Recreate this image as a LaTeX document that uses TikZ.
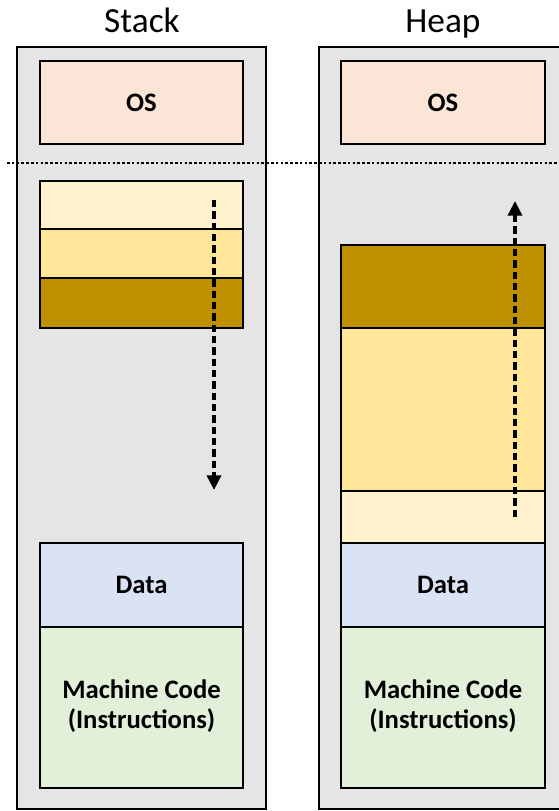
\documentclass[tikz,border=0pt]{standalone}
\usepackage{fontspec}
\setmainfont{Carlito}
\usetikzlibrary{arrows.meta}

\definecolor{memgray}{RGB}{229,229,229}
\definecolor{osfill}{RGB}{251,229,214}
\definecolor{datafill}{RGB}{218,227,243}
\definecolor{codefill}{RGB}{226,240,217}
\definecolor{lightgold}{RGB}{255,242,204}
\definecolor{midgold}{RGB}{255,230,153}
\definecolor{darkgold}{RGB}{191,144,0}

\tikzset{every picture/.style={line width=0.75pt}}
\tikzset{
memframe/.style={draw=black, fill=memgray, line width=1.6pt},
segbox/.style={draw=black, line width=2pt},
seglabel/.style={font=\fontsize{20}{23}\selectfont\bfseries, align=center, inner sep=0.75pt},
memtitle/.style={font=\fontsize{26.5}{30}\selectfont, inner sep=0.75pt},
growth/.style={line width=2.6pt, dash pattern={on 5.5pt off 3pt}, -{Triangle[width=10.5pt,length=11pt]}}
}

\begin{document}
\begin{tikzpicture}[x=0.75pt,y=0.75pt,yscale=-1,xscale=1]
\useasboundingbox (0,0) rectangle (559,811);

%Shape: Rectangle [stack frame]
\draw [memframe] (17,47) rectangle (266,809);
%Shape: Rectangle [heap frame]
\draw [memframe] (319,47) rectangle (590,809);

%Shape: Rectangle [OS]
\draw [segbox, fill=osfill] (40,61) rectangle (243,144);
\draw [segbox, fill=osfill] (341,61) rectangle (545,144);

%Straight Lines [boundary]
\draw [line width=2pt, dash pattern={on 2pt off 1.6pt}] (7,163) -- (559,163);

%Shape: Rectangle [stack frames]
\draw [segbox, fill=lightgold] (40,181) rectangle (243,229);
\draw [segbox, fill=midgold] (40,229) rectangle (243,278);
\draw [segbox, fill=darkgold] (40,278) rectangle (243,328);

%Shape: Rectangle [heap blocks]
\draw [segbox, fill=darkgold] (341,245) rectangle (545,328);
\draw [segbox, fill=midgold] (341,328) rectangle (545,491);
\draw [segbox, fill=lightgold] (341,491) rectangle (545,543);

%Shape: Rectangle [data + code]
\draw [segbox, fill=datafill] (40,543) rectangle (243,627);
\draw [segbox, fill=codefill] (40,627) rectangle (243,788);
\draw [segbox, fill=datafill] (341,543) rectangle (545,627);
\draw [segbox, fill=codefill] (341,627) rectangle (545,788);

%Straight Lines [growth arrows]
\coordinate (stacktop) at (214,200);
\coordinate (stackend) at (214,490);
\coordinate (heapbot) at (515,517);
\coordinate (heapend) at (515,201);
\draw [growth] (stacktop) -- (stackend);
\draw [growth] (heapbot) -- (heapend);

% Text Node
\draw (142,32) node [memtitle, anchor=base] (stacklbl) {Stack};
% Text Node
\draw (443,32) node [memtitle, anchor=base] (heaplbl) {Heap};
% Text Node
\draw (141.5,102.5) node [seglabel] (osL) {OS};
\draw (443,102.5) node [seglabel] (osR) {OS};
% Text Node
\draw (141.5,585) node [seglabel] (dataL) {Data};
\draw (443,585) node [seglabel] (dataR) {Data};
% Text Node
\draw (141.5,706) node [seglabel] (codeL) {Machine Code\\(Instructions)};
\draw (443,706) node [seglabel] (codeR) {Machine Code\\(Instructions)};

\end{tikzpicture}
\end{document}
